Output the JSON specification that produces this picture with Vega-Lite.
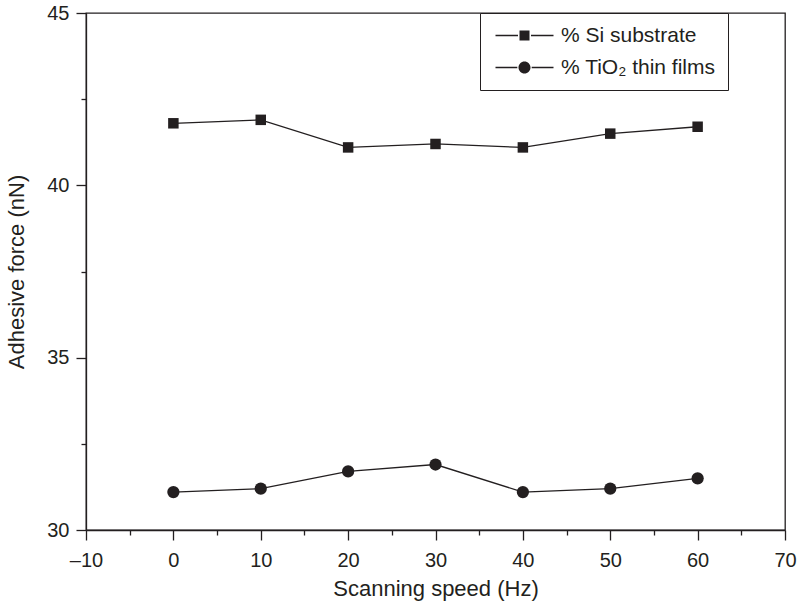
{
  "$schema": "https://vega.github.io/schema/vega-lite/v6.json",
  "width": 699,
  "height": 517,
  "autosize": "none",
  "padding": {"left": 86, "top": 13, "right": 13, "bottom": 75},
  "background": "white",
  "config": {
    "font": "Liberation Sans",
    "view": {"stroke": "#231f20", "strokeWidth": 1.3},
    "axis": {
      "domainColor": "#231f20",
      "domainWidth": 1.3,
      "tickColor": "#231f20",
      "tickWidth": 1.3,
      "grid": false,
      "labelColor": "#231f20",
      "titleColor": "#231f20",
      "labelFontSize": 20,
      "titleFontSize": 22,
      "titleFontWeight": "normal",
      "labelFont": "Liberation Sans",
      "titleFont": "Liberation Sans"
    }
  },
  "data": {
    "values": [
      {"speed": 0, "force": 41.8, "series": "% Si substrate"},
      {"speed": 10, "force": 41.9, "series": "% Si substrate"},
      {"speed": 20, "force": 41.1, "series": "% Si substrate"},
      {"speed": 30, "force": 41.2, "series": "% Si substrate"},
      {"speed": 40, "force": 41.1, "series": "% Si substrate"},
      {"speed": 50, "force": 41.5, "series": "% Si substrate"},
      {"speed": 60, "force": 41.7, "series": "% Si substrate"},
      {"speed": 0, "force": 31.1, "series": "% TiO₂ thin films"},
      {"speed": 10, "force": 31.2, "series": "% TiO₂ thin films"},
      {"speed": 20, "force": 31.7, "series": "% TiO₂ thin films"},
      {"speed": 30, "force": 31.9, "series": "% TiO₂ thin films"},
      {"speed": 40, "force": 31.1, "series": "% TiO₂ thin films"},
      {"speed": 50, "force": 31.2, "series": "% TiO₂ thin films"},
      {"speed": 60, "force": 31.5, "series": "% TiO₂ thin films"}
    ]
  },
  "layer": [
    {
      "mark": {"type": "line", "color": "#231f20", "strokeWidth": 1.3},
      "encoding": {
        "x": {
          "field": "speed", "type": "quantitative",
          "scale": {"domain": [-10, 70], "nice": false, "zero": false},
          "axis": {
            "values": [-10, -5, 0, 5, 10, 15, 20, 25, 30, 35, 40, 45, 50, 55, 60, 65, 70],
            "tickSize": {"expr": "datum.value % 10 == 0 ? 10 : 5"},
            "labelPadding": 10, "title": "Scanning speed (Hz)", "titlePadding": 8,
            "labelExpr": "datum.value % 10 == 0 ? replace(datum.label, '−', '–') : ''",
            "labelFlush": false
          }
        },
        "y": {
          "field": "force", "type": "quantitative",
          "scale": {"domain": [30, 45], "nice": false, "zero": false},
          "axis": {
            "values": [30, 32.5, 35, 37.5, 40, 42.5, 45],
            "tickSize": {"expr": "datum.value % 5 == 0 ? 10 : 5"},
            "labelPadding": 7, "title": "Adhesive force (nN)", "titlePadding": 18,
            "labelExpr": "datum.value % 5 == 0 ? datum.label : ''",
            "labelFlush": false
          }
        },
        "detail": {"field": "series"}
      }
    },
    {
      "transform": [{"filter": "datum.series == '% Si substrate'"}],
      "mark": {"type": "point", "filled": true, "shape": "square", "color": "#231f20", "opacity": 1, "size": 110},
      "encoding": {
        "x": {"field": "speed", "type": "quantitative"},
        "y": {"field": "force", "type": "quantitative"}
      }
    },
    {
      "transform": [{"filter": "datum.series != '% Si substrate'"}],
      "mark": {"type": "point", "filled": true, "shape": "circle", "color": "#231f20", "opacity": 1, "size": 150},
      "encoding": {
        "x": {"field": "speed", "type": "quantitative"},
        "y": {"field": "force", "type": "quantitative"}
      }
    },
    {
      "mark": {"type": "point", "filled": true, "fill": "#231f20", "opacity": 0},
      "encoding": {
        "x": {"field": "speed", "type": "quantitative"},
        "y": {"field": "force", "type": "quantitative"},
        "shape": {
          "field": "series", "type": "nominal",
          "scale": {
            "domain": ["% Si substrate", "% TiO₂ thin films"],
            "range": [
              "M-2.9,-0.065H-0.65V0.065H-2.9Z M0.65,-0.065H2.9V0.065H0.65Z M-0.5,-0.5H0.5V0.5H-0.5Z",
              "M-2.9,-0.065H-0.72V0.065H-2.9Z M0.72,-0.065H2.9V0.065H0.72Z M-0.6,0A0.6,0.6 0 1,0 0.6,0A0.6,0.6 0 1,0 -0.6,0Z"
            ]
          },
          "legend": {
            "title": null,
            "orient": "none",
            "legendX": 394,
            "legendY": 0,
            "padding": 12,
            "strokeColor": "#231f20",
            "fillColor": "white",
            "labelFontSize": 21,
            "labelColor": "#231f20",
            "labelFont": "Liberation Sans",
            "symbolOffset": 22,
            "labelOffset": 26,
            "rowPadding": 10,
            "symbolSize": 400,
            "symbolOpacity": 1,
            "symbolStrokeWidth": 0,
            "symbolFillColor": "#231f20"
          }
        }
      }
    }
  ]
}
